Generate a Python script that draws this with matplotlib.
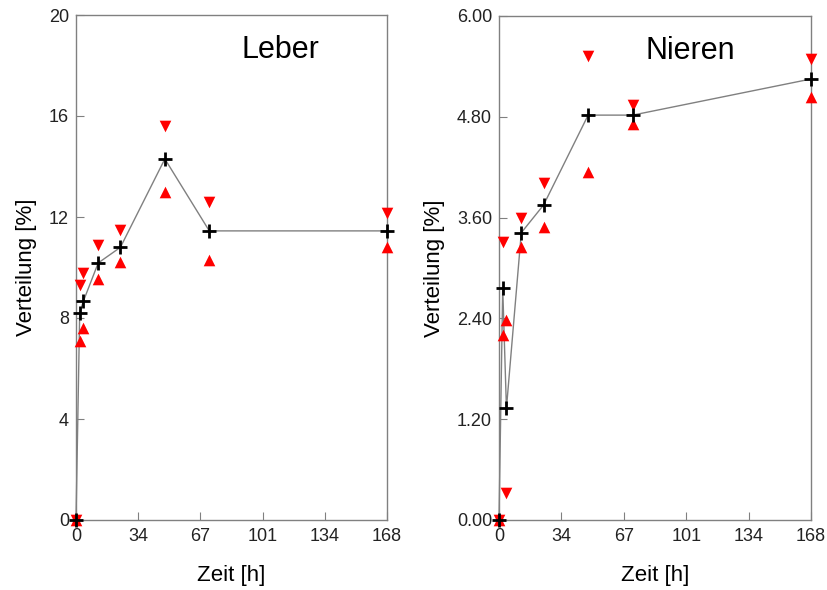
import matplotlib
matplotlib.use("Agg")
import matplotlib.pyplot as plt
import numpy as np

plt.rcParams['font.family'] = ['Liberation Sans', 'DejaVu Sans']

time_h = [0, 2, 4, 12, 24, 48, 72, 168]

leber_mean = [0, 8.2, 8.67, 10.18, 10.8, 14.3, 11.45, 11.45]
leber_down = [0, 9.3, 9.78, 10.9, 11.5, 15.6, 12.6, 12.15]
leber_up = [0, 7.1, 7.6, 9.55, 10.2, 13.0, 10.3, 10.8]

nieren_mean = [0, 2.76, 1.33, 3.42, 3.75, 4.82, 4.82, 5.25]
nieren_down = [0, 3.31, 0.32, 3.6, 4.01, 5.52, 4.94, 5.49]
nieren_up = [0, 2.2, 2.38, 3.25, 3.49, 4.14, 4.71, 5.04]

x_ticks = [0, 33.6, 67.2, 100.8, 134.4, 168]
x_ticklabels = ["0", "34", "67", "101", "134", "168"]
leber_yticks = [0, 4, 8, 12, 16, 20]
leber_yticklabels = ["0", "4", "8", "12", "16", "20"]
nieren_yticks = [0, 1.2, 2.4, 3.6, 4.8, 6.0]
nieren_yticklabels = ["0.00", "1.20", "2.40", "3.60", "4.80", "6.00"]

fig = plt.figure(figsize=(8.28, 5.9), dpi=100)
ax1 = fig.add_axes([76/828, 1-520/590, 311/828, 505/590])
ax2 = fig.add_axes([499/828, 1-520/590, 312/828, 504/590])

def draw(ax, mean, down, up, yticks, ylabels, ymax, title, tx, ylx):
    ax.plot(time_h, mean, color='#808080', lw=1.0, zorder=2, clip_on=False)
    ax.scatter(time_h, down, marker='v', s=70, color='#ff0000', zorder=3, clip_on=False, linewidths=0)
    ax.scatter(time_h, up, marker='^', s=70, color='#ff0000', zorder=3, clip_on=False, linewidths=0)
    ax.scatter(time_h, mean, marker='+', s=110, color='black', linewidths=2, zorder=4, clip_on=False)
    ax.set_xlim(0, 168)
    ax.set_ylim(0, ymax)
    ax.set_xticks(x_ticks)
    ax.set_xticklabels(x_ticklabels)
    ax.set_yticks(yticks)
    ax.set_yticklabels(ylabels)
    ax.tick_params(direction='in', length=6, color='#808080', labelsize=13, labelcolor='#222222')
    ax.tick_params(axis='x', pad=6)
    ax.tick_params(axis='y', pad=5)
    for s in ax.spines.values():
        s.set_color('#808080')
        s.set_linewidth(1.0)
    ax.set_xlabel('Zeit [h]', fontsize=16, labelpad=14)
    ax.set_ylabel('Verteilung [%]', fontsize=16)
    ax.yaxis.set_label_coords(ylx, 0.5)
    ax.text(tx, 0.93, title, transform=ax.transAxes, fontsize=22, ha='center', va='center')

draw(ax1, leber_mean, leber_down, leber_up, leber_yticks, leber_yticklabels, 20, 'Leber', 0.656, -0.126)
draw(ax2, nieren_mean, nieren_down, nieren_up, nieren_yticks, nieren_yticklabels, 6.0, 'Nieren', 0.612, -0.174)

fig.savefig('out.png', dpi=100)
